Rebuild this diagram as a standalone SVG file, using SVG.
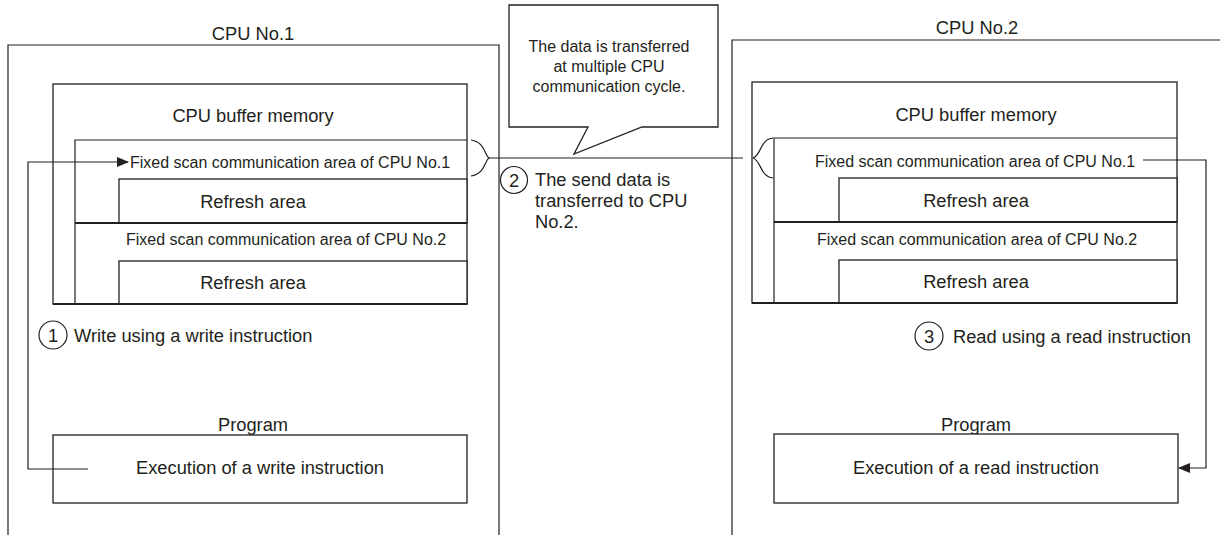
<svg xmlns="http://www.w3.org/2000/svg" width="1220" height="535" viewBox="0 0 1220 535">
<style>
.ln{fill:none;stroke:#231f20;stroke-width:1.2}
.bx{fill:#fff;stroke:#231f20;stroke-width:1.3}
.t{font-family:"Liberation Sans",Arial,sans-serif;fill:#231f20}
.b{font-size:18.3px}
.s{font-size:16px}
.m{text-anchor:middle}
</style>
<defs>
<marker id="ah" markerWidth="12" markerHeight="10" refX="11" refY="5" orient="auto" markerUnits="userSpaceOnUse">
<path d="M0,0 L12,5 L0,10 Z" fill="#231f20"/>
</marker>
</defs>
<rect width="1220" height="535" fill="#fff"/>

<g id="cpu1">
<path class="ln" d="M8,535 V45 H499 V535"/>
<text class="t b m" x="253" y="40">CPU No.1</text>
</g>
<g id="cpu2">
<path class="ln" d="M732,535 V40 H1220"/>
<text class="t b m" x="977" y="34">CPU No.2</text>
</g>

<g id="buffer1">
<rect class="bx" x="53" y="84" width="414" height="220"/>
<text class="t b m" x="253" y="122">CPU buffer memory</text>
<path class="ln" d="M75,304 V140 H467"/>
<text class="t s" x="130" y="168">Fixed scan communication area of CPU No.1</text>
<rect class="bx" x="119" y="179" width="348" height="44"/>
<text class="t b m" x="253" y="208">Refresh area</text>
<line class="ln" x1="75" y1="223" x2="467" y2="223" style="stroke-width:1.8"/>
<text class="t s" x="126" y="245">Fixed scan communication area of CPU No.2</text>
<rect class="bx" x="119" y="261" width="348" height="43"/>
<text class="t b m" x="253" y="289">Refresh area</text>
<line class="ln" x1="53" y1="304" x2="467" y2="304" style="stroke-width:1.8"/>
</g>

<g id="buffer2">
<rect class="bx" x="752" y="82" width="425" height="221"/>
<text class="t b m" x="976" y="121">CPU buffer memory</text>
<path class="ln" d="M774,303 V138 H1177"/>
<text class="t s" x="815" y="167">Fixed scan communication area of CPU No.1</text>
<rect class="bx" x="839" y="178" width="338" height="44"/>
<text class="t b m" x="976" y="207">Refresh area</text>
<line class="ln" x1="774" y1="222" x2="1177" y2="222" style="stroke-width:1.8"/>
<text class="t s" x="817" y="245">Fixed scan communication area of CPU No.2</text>
<rect class="bx" x="839" y="260" width="338" height="43"/>
<text class="t b m" x="976" y="288">Refresh area</text>
<line class="ln" x1="752" y1="303" x2="1177" y2="303" style="stroke-width:1.8"/>
</g>

<g id="program1">
<text class="t b m" x="253" y="431">Program</text>
<rect class="bx" x="53" y="435" width="414" height="68"/>
<text class="t b m" x="260" y="474">Execution of a write instruction</text>
</g>
<g id="program2">
<text class="t b m" x="976" y="431">Program</text>
<rect class="bx" x="774" y="434" width="404" height="69"/>
<text class="t b m" x="976" y="474">Execution of a read instruction</text>
</g>

<g id="callout">
<path class="bx" d="M509,5 H718 V127 H642 L574,154 L588,127 H509 Z"/>
<text class="t s m" x="609" y="52">The data is transferred</text>
<text class="t s m" x="609" y="72">at multiple CPU</text>
<text class="t s m" x="609" y="92">communication cycle.</text>
</g>

<g id="step1">
<circle class="ln" cx="53" cy="335" r="14"/>
<text class="t b m" x="53" y="342">1</text>
<text class="t b" x="74" y="342">Write using a write instruction</text>
</g>
<g id="step2">
<circle class="ln" cx="514" cy="180" r="13.5"/>
<text class="t b m" x="514" y="187">2</text>
<text class="t b" x="535" y="186">The send data is</text>
<text class="t b" x="535" y="207">transferred to CPU</text>
<text class="t b" x="535" y="228">No.2.</text>
</g>
<g id="step3">
<circle class="ln" cx="929" cy="336" r="14"/>
<text class="t b m" x="929" y="343">3</text>
<text class="t b" x="953" y="343">Read using a read instruction</text>
</g>

<g id="connectors">
<path class="ln" d="M88,469 H28 V162 H128" marker-end="url(#ah)"/>
<path class="ln" d="M1143,160 H1206 V468 H1179" marker-end="url(#ah)"/>
<path class="ln" d="M471,140 C485,142 485,156 489,158 C485,160 485,174 471,176"/>
<line class="ln" x1="489" y1="158" x2="743" y2="158"/>
<path class="ln" d="M773,138 C760,139 761,156 753,158 C761,160 760,177 773,178"/>
</g>
</svg>
